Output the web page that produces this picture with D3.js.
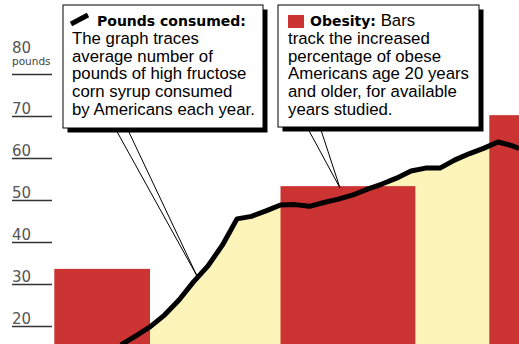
<!DOCTYPE html>
<html><head><meta charset="utf-8">
<script src="https://cdn.jsdelivr.net/npm/d3@7"></script>
<style>
html,body{margin:0;padding:0;background:#fff;overflow:hidden}
svg{display:block}
</style></head>
<body><svg id="c" width="519" height="344"></svg>
<script>
// ---- data ----
const years = [1977,1978,1979,1980,1981,1982,1983,1984,1985,1986,1987,1988,1989,1990,1991,1992,1993,1994,1995,1996,1997,1998,1999,2000,2001,2002,2003,2004,2004.45];
const pounds = [15.5,17.6,19.8,22.6,26.2,30.5,34.3,39.3,45.5,46.1,47.4,48.8,48.9,48.5,49.4,50.2,51.2,52.6,53.8,55.2,56.9,57.6,57.6,59.5,61.0,62.3,63.8,62.9,62.3];
const barStart = [1972.4,1988.0,2002.4];
const barEnd   = [1979.0,1997.3,2007.0];
const barValue = [33.6,53.3,70.2];
const tickValues = [20,30,40,50,60,70,80];
const unitLabel = "pounds";
const note1Title = "Pounds consumed:";
const note1Lines = ["The graph traces","average number of","pounds of high fructose","corn syrup consumed","by Americans each year."];
const note2Title = "Obesity:";
const note2First = " Bars";
const note2Lines = ["track the increased","percentage of obese","Americans age 20 years","and older, for available","years studied."];

const svg = d3.select("#c");
const W = 519, H = 344;
const x = d3.scaleLinear().domain([1985,2003]).range([237,498]);
const y = d3.scaleLinear().domain([20,80]).range([326,74]);
const red = "#cb3432", yellow = "#fdf4b9";

// area
svg.append("path").datum(years.map((d,i)=>[d,pounds[i]]))
  .attr("fill", yellow)
  .attr("d", d3.area().x(d=>x(d[0])).y0(H+20).y1(d=>y(d[1])));

// bars
svg.selectAll("rect.bar").data(barValue).join("rect").attr("class","bar")
  .attr("x",(d,i)=>x(barStart[i])).attr("width",(d,i)=>x(barEnd[i])-x(barStart[i]))
  .attr("y",d=>y(d)).attr("height",d=>H+20-y(d)).attr("fill",red);

// line
svg.append("path").datum(years.map((d,i)=>[d,pounds[i]]))
  .attr("fill","none").attr("stroke","#000").attr("stroke-width",5)
  .attr("stroke-linejoin","round")
  .attr("d", d3.line().x(d=>x(d[0])).y(d=>y(d[1])));

// axis
const ax = svg.append("g").attr("transform","translate(12,0)")
  .call(d3.axisRight(y).tickValues(tickValues).tickSize(40));
ax.select(".domain").remove();
ax.selectAll(".tick line").attr("stroke","#333").attr("stroke-width",1.3);
ax.selectAll(".tick text").attr("x",0).attr("dy",null)
  .attr("y",d=>d===80?-22:-3)
  .attr("text-anchor","start").attr("font-family","DejaVu Sans, Verdana, sans-serif")
  .attr("font-size",15).attr("fill","#555");
svg.append("text").attr("x",12).attr("y",y(80)-9).text(unitLabel)
  .attr("font-family","DejaVu Sans, Verdana, sans-serif").attr("font-size",10.5).attr("fill","#444");

// callouts
function pointer(x1,x2,yb,tx,ty){
  svg.append("path").attr("d",`M${x1},${yb}L${tx},${ty}L${x2},${yb}`)
    .attr("fill","#fff").attr("stroke","#000").attr("stroke-width",1);
}
pointer(115,127,128,197,276);
pointer(307,320,127,340,188);

function box(x0,y0,w,h){
  svg.append("rect").attr("x",x0+4.5).attr("y",y0+4.5).attr("width",w).attr("height",h).attr("fill","#000");
  svg.append("rect").attr("x",x0).attr("y",y0).attr("width",w).attr("height",h)
    .attr("fill","#fff").attr("stroke","#000").attr("stroke-width",1);
}
box(63,5,200,123);
box(278,5,201,122);

const bodyFont = "Liberation Sans, Arial, sans-serif";
const lh = 17.8;
// note 1
svg.append("line").attr("x1",71).attr("y1",24).attr("x2",88).attr("y2",15)
  .attr("stroke","#000").attr("stroke-width",5);
svg.append("text").attr("x",97).attr("y",26).text(note1Title)
  .attr("font-family","DejaVu Sans, Verdana, sans-serif").attr("font-weight","bold")
  .attr("font-size",14).attr("fill","#000");
svg.append("g").selectAll("text").data(note1Lines).join("text")
  .attr("x",72).attr("y",(d,i)=>26+lh*(i+1)).text(d=>d)
  .attr("font-family",bodyFont).attr("font-size",16.8).attr("fill","#000");

// note 2
svg.append("rect").attr("x",288).attr("y",15).attr("width",16).attr("height",13).attr("fill",red);
const t2 = svg.append("text").attr("x",310).attr("y",26).attr("font-size",16.8).attr("font-family",bodyFont);
t2.append("tspan").text(note2Title).attr("font-family","DejaVu Sans, Verdana, sans-serif").attr("font-weight","bold").attr("font-size",14);
t2.append("tspan").text(note2First);
svg.append("g").selectAll("text").data(note2Lines).join("text")
  .attr("x",288).attr("y",(d,i)=>26+lh*(i+1)).text(d=>d)
  .attr("font-family",bodyFont).attr("font-size",16.8).attr("fill","#000");
</script></body></html>
